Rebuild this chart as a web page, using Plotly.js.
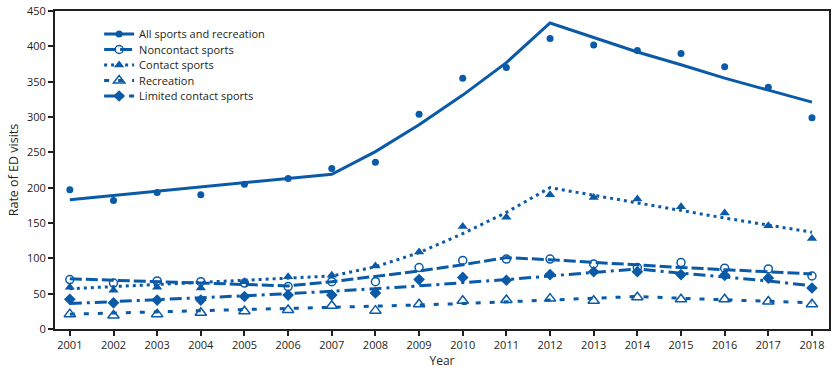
<!DOCTYPE html>
<html>
<head>
<meta charset="utf-8">
<script src="https://cdn.plot.ly/plotly-3.0.1.min.js"></script>
<style>html,body{margin:0;padding:0;background:#fff;}#chart{width:838px;height:374px;}</style>
</head>
<body>
<div id="chart"></div>
<script>
const years = [2001,2002,2003,2004,2005,2006,2007,2008,2009,2010,2011,2012,2013,2014,2015,2016,2017,2018];

const seriesNames = ["All sports and recreation","Noncontact sports","Contact sports","Recreation","Limited contact sports"];

// Observed rates
const allObs        = [197,182,193,190,205,213,227,236,304,355,370,411,402,394,390,371,342,299];
const noncontactObs = [70,65,68,67,65,60,67,67,87,97,99,99,92,87,94,86,85,75];
const contactObs    = [59,55,59,58,67,74,76,89,109,145,158,190,186,184,173,164,146,128];
const recreationObs = [21,19,21,23,25,27,33,26,35,40,41,43,40,45,42,42,39,35];
const limitedObs    = [42,37,41,41,46,48,48,51,70,73,69,77,81,81,77,76,72,58];

// Modeled trends
const allTrend        = [183,189,195,201,207,213,219,251,289,331,377,433,412,392,374,355,338,321];
const noncontactTrend = [71,69,67,65,63,61,67,74,82,91,101,98,94,90,87,84,81,78];
const contactTrend    = [57,60,63,66,69,72,75,88,108,135,165,200,189,178,167,157,147,137];
const recreationTrend = [21,22.5,24,25.5,27,28.5,30,32,34,36,38.5,41,43.5,46,43.5,41.5,39,37];
const limitedTrend    = [36,38.5,41,44,47,50,53,57,61,65,70,75,80,85,79,74,68,61];

const yTicks = [0,50,100,150,200,250,300,350,400,450];

const blue = "#0a5aa8";
const dark = "#231f20";

const obs = [allObs, noncontactObs, contactObs, recreationObs, limitedObs];
const trends = [allTrend, noncontactTrend, contactTrend, recreationTrend, limitedTrend];
const markers = [
  {symbol:"circle", size:7, color:blue},
  {symbol:"circle-open", size:8, color:blue, line:{width:1.5,color:blue}},
  {symbol:"triangle-up", size:9, color:blue},
  {symbol:"triangle-up-open", size:10, color:blue, line:{width:1.5,color:blue}},
  {symbol:"diamond", size:9, color:blue}
];
const dashes = ["solid","12px,4px","3px,4px","5px,9px","12px,5px,3px,5px"];
const legendIds = ["legend","legend2","legend3","legend4","legend5"];

const traces = [];
for (let i = 0; i < 5; i++) {
  traces.push({x: years, y: trends[i], mode: "lines", line:{color:blue, width:3, dash:dashes[i]}, showlegend:false, hoverinfo:"skip"});
}
for (let i = 0; i < 5; i++) {
  traces.push({x: years, y: obs[i], mode: "markers", marker: markers[i], showlegend:false, name: seriesNames[i]});
}
for (let i = 0; i < 5; i++) {
  traces.push({x: [null], y: [null], mode: "lines+markers", marker: markers[i], line:{color:blue, width:3, dash:dashes[i]}, name: seriesNames[i], showlegend:true, legend: legendIds[i]});
}

const layout = {
  width: 838, height: 374,
  margin: {l:55, r:9, t:11, b:45},
  paper_bgcolor: "#fff", plot_bgcolor: "#fff",
  font: {family: "Open Sans, sans-serif", size: 11, color: dark},
  xaxis: {
    range: [2000.66, 2018.39],
    tickvals: years, ticktext: years.map(String),
    ticks: "outside", ticklen: 5, tickwidth: 2, tickcolor: dark,
    showline: true, linecolor: dark, linewidth: 2, mirror: true,
    showgrid: false, zeroline: false,
    tickfont: {size: 11, color: dark},
    title: {text: "Year", font: {size: 12, color: dark}, standoff: 2}
  },
  yaxis: {
    range: [0, 450],
    tickvals: yTicks,
    ticks: "outside", ticklen: 5, tickwidth: 2, tickcolor: dark,
    showline: true, linecolor: dark, linewidth: 2, mirror: true,
    showgrid: false, zeroline: false,
    tickfont: {size: 11, color: dark},
    title: {text: "Rate of ED visits", font: {size: 12.5, color: dark}, standoff: 6}
  },
  showlegend: true
};
const rowY = [34, 49.5, 65, 80.5, 96];
for (let i = 0; i < 5; i++) {
  layout[legendIds[i]] = {
    x: 0.057, y: (329 - rowY[i]) / 318, xanchor: "left", yanchor: "middle",
    bgcolor: "rgba(0,0,0,0)", font: {size: 11, color: dark}, itemwidth: 30
  };
}

Plotly.newPlot("chart", traces, layout, {displayModeBar: false, staticPlot: true});
</script>
</body>
</html>
